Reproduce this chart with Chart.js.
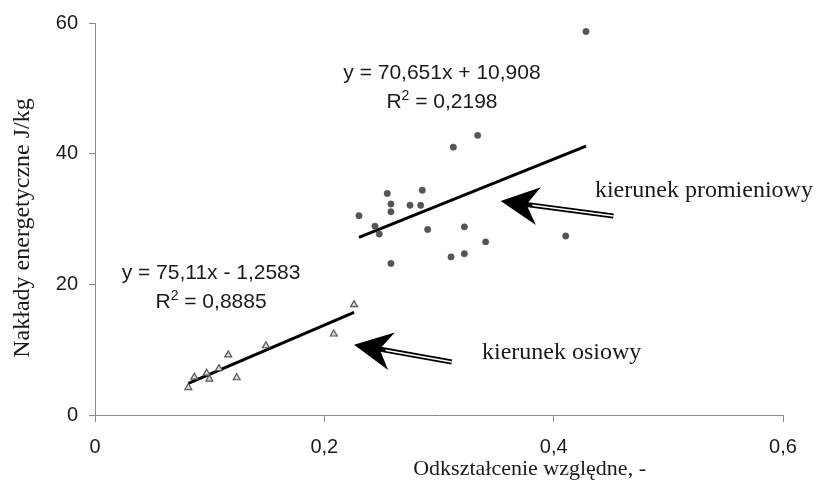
<!DOCTYPE html>
<html>
<head>
<meta charset="utf-8">
<style>
  html, body { margin: 0; padding: 0; background: #ffffff; }
  #wrap { width: 827px; height: 491px; }
</style>
<script src="https://cdn.jsdelivr.net/npm/chart.js@4.4.1/dist/chart.umd.min.js"></script>
</head>
<body>
<div id="wrap"><canvas id="c" width="827" height="491"></canvas></div>
<script>
// ---- data ----
const axialX = [0.0814, 0.0866, 0.0974, 0.0997, 0.1081, 0.1162, 0.1236, 0.1491, 0.2082, 0.2259];
const axialY = [4.2, 5.8, 6.4, 5.5, 7.1, 9.2, 5.7, 10.6, 12.4, 16.9];

const radialX = [0.2302, 0.2549, 0.2581, 0.2581, 0.2854, 0.2747, 0.2840, 0.2442, 0.2479, 0.2901,
                 0.3221, 0.3407, 0.3105, 0.3221, 0.2581, 0.4105, 0.3125, 0.3337, 0.4282];
const radialY = [30.5, 33.9, 32.3, 31.1, 34.4, 32.1, 32.1, 28.9, 27.7, 28.4,
                 28.8, 26.5, 24.2, 24.7, 23.2, 27.4, 41.0, 42.8, 58.7];

// trendlines as given by the equations on the chart
const axialFit = { slope: 75.11, intercept: -1.2583, xFrom: 0.0814, xTo: 0.2259 };
const radialFit = { slope: 70.651, intercept: 10.908, xFrom: 0.2302, xTo: 0.4282 };

const xTicks = [0, 0.2, 0.4, 0.6];
const xTickLabels = ['0', '0,2', '0,4', '0,6'];
const yTicks = [0, 20, 40, 60];
const yTickLabels = ['0', '20', '40', '60'];

const xTitle = 'Odkształcenie względne, -';
const yTitle = 'Nakłady energetyczne J/kg';

// equation labels: [line1, R² value, centre x, baseline y1, baseline y2] in data units
const equations = [
  { l1: 'y = 70,651x + 10,908', r2: '0,2198', x: 0.3026, y1: 51.47, y2: 47.05 },
  { l1: 'y = 75,11x - 1,2583', r2: '0,8885', x: 0.1012, y1: 20.86, y2: 16.45 }
];
// arrows (tip and tail, data units) and their captions
const arrows = [
  { tipX: 0.3538, tipY: 32.74, tailX: 0.4521, tailY: 30.45 },
  { tipX: 0.2259, tipY: 10.77, tailX: 0.3111, tailY: 8.12 }
];
const captions = [
  { text: 'kierunek promieniowy', x: 0.4360, y: 33.3 },
  { text: 'kierunek osiowy', x: 0.3375, y: 8.53 }
];

// ---- build datasets ----
const toPts = (xs, ys) => xs.map((x, i) => ({ x: x, y: ys[i] }));
const fitPts = f => [
  { x: f.xFrom, y: f.slope * f.xFrom + f.intercept },
  { x: f.xTo, y: f.slope * f.xTo + f.intercept }
];

const SANS = '"Liberation Sans", Arial, sans-serif';
const SERIF = '"Liberation Serif", "Times New Roman", serif';

const overlay = {
  id: 'overlay',
  afterDatasetsDraw(chart) {
    const ctx = chart.ctx;
    const xs = chart.scales.x, ys = chart.scales.y;
    ctx.save();
    ctx.fillStyle = '#1a1a1a';
    // equations
    equations.forEach(e => {
      const cx = xs.getPixelForValue(e.x);
      ctx.font = '21px ' + SANS;
      ctx.textBaseline = 'alphabetic';
      ctx.textAlign = 'center';
      ctx.fillText(e.l1, cx, ys.getPixelForValue(e.y1));
      // R² line
      const a = 'R', b = '2', c = ' = ' + e.r2;
      ctx.font = '21px ' + SANS;
      const wa = ctx.measureText(a).width, wc = ctx.measureText(c).width;
      ctx.font = '14px ' + SANS;
      const wb = ctx.measureText(b).width;
      const total = wa + wb + wc;
      let px = cx - total / 2;
      const by = ys.getPixelForValue(e.y2);
      ctx.textAlign = 'left';
      ctx.font = '21px ' + SANS;
      ctx.fillText(a, px, by); px += wa;
      ctx.font = '14px ' + SANS;
      ctx.fillText(b, px, by - 8); px += wb;
      ctx.font = '21px ' + SANS;
      ctx.fillText(c, px, by);
    });
    // arrows
    arrows.forEach(a => {
      const tx = xs.getPixelForValue(a.tipX), ty = ys.getPixelForValue(a.tipY);
      const ex = xs.getPixelForValue(a.tailX), ey = ys.getPixelForValue(a.tailY);
      const dx = ex - tx, dy = ey - ty, len = Math.hypot(dx, dy);
      const ux = dx / len, uy = dy / len, vx = -uy, vy = ux;
      const headLen = 38, half = 19, notch = 26;
      // shaft (double line)
      const sx = tx + ux * (notch - 2), sy = ty + uy * (notch - 2);
      ctx.lineCap = 'butt';
      ctx.strokeStyle = '#000';
      ctx.lineWidth = 5;
      ctx.beginPath(); ctx.moveTo(sx, sy); ctx.lineTo(ex, ey); ctx.stroke();
      ctx.strokeStyle = '#fff';
      ctx.lineWidth = 1.6;
      ctx.beginPath(); ctx.moveTo(sx + ux * 8, sy + uy * 8); ctx.lineTo(ex, ey); ctx.stroke();
      // head
      ctx.fillStyle = '#000';
      ctx.beginPath();
      ctx.moveTo(tx, ty);
      ctx.lineTo(tx + ux * headLen + vx * (-half), ty + uy * headLen + vy * (-half));
      ctx.lineTo(tx + ux * notch, ty + uy * notch);
      ctx.lineTo(tx + ux * headLen + vx * half, ty + uy * headLen + vy * half);
      ctx.closePath();
      ctx.fill();
    });
    // captions
    ctx.fillStyle = '#1a1a1a';
    ctx.font = '24px ' + SERIF;
    ctx.textAlign = 'left';
    ctx.textBaseline = 'alphabetic';
    captions.forEach(c => {
      ctx.fillText(c.text, xs.getPixelForValue(c.x), ys.getPixelForValue(c.y));
    });
    ctx.restore();
  },
  afterDraw(chart) {
    const ctx = chart.ctx;
    const area = chart.chartArea;
    ctx.save();
    ctx.fillStyle = '#1a1a1a';
    ctx.font = '22px ' + SERIF;
    ctx.textBaseline = 'middle';
    ctx.textAlign = 'center';
    ctx.fillText(xTitle, chart.scales.x.getPixelForValue(0.379), 469);
    ctx.translate(23, (area.top + area.bottom) / 2 + 9);
    ctx.rotate(-Math.PI / 2);
    ctx.font = '24px ' + SERIF;
    ctx.fillText(yTitle, 0, 0);
    ctx.restore();
  }
};

new Chart(document.getElementById('c'), {
  type: 'scatter',
  data: {
    datasets: [
      {
        label: 'radial', data: toPts(radialX, radialY),
        pointStyle: 'circle', pointRadius: 3.2, pointHoverRadius: 3.2,
        backgroundColor: '#555555', borderColor: '#555555', borderWidth: 0.5
      },
      {
        label: 'axial', data: toPts(axialX, axialY),
        pointStyle: 'triangle', pointRadius: 4, pointHoverRadius: 4,
        backgroundColor: '#d8d8d8', borderColor: '#555555', borderWidth: 1.2
      },
      {
        label: 'radial fit', data: fitPts(radialFit), showLine: true,
        borderColor: '#000000', borderWidth: 3, pointRadius: 0, fill: false
      },
      {
        label: 'axial fit', data: fitPts(axialFit), showLine: true,
        borderColor: '#000000', borderWidth: 3, pointRadius: 0, fill: false
      }
    ]
  },
  options: {
    responsive: false,
    animation: false,
    events: [],
    layout: { padding: { left: 0, right: 44, top: 21, bottom: 0 } },
    plugins: { legend: { display: false }, tooltip: { enabled: false }, title: { display: false } },
    scales: {
      x: {
        type: 'linear', min: 0, max: 0.6,
        afterBuildTicks: s => { s.ticks = xTicks.map(v => ({ value: v })); },
        afterFit: s => { s.height = 76; },
        ticks: {
          callback: (v, i) => xTickLabels[i],
          color: '#1a1a1a', font: { family: SANS, size: 20 }, padding: 13, maxRotation: 0, autoSkip: false
        },
        grid: { display: true, drawOnChartArea: false, drawTicks: true, tickLength: 7, color: '#8a8a8a' },
        border: { display: true, color: '#8a8a8a', width: 1 }
      },
      y: {
        type: 'linear', min: 0, max: 60,
        afterBuildTicks: s => { s.ticks = yTicks.map(v => ({ value: v })); },
        afterFit: s => { s.width = 95; },
        ticks: {
          callback: (v, i) => yTickLabels[i],
          color: '#1a1a1a', font: { family: SANS, size: 20 }, padding: 11, autoSkip: false
        },
        grid: { display: true, drawOnChartArea: false, drawTicks: true, tickLength: 6, color: '#8a8a8a' },
        border: { display: true, color: '#8a8a8a', width: 1 }
      }
    }
  },
  plugins: [overlay]
});
</script>
</body>
</html>
